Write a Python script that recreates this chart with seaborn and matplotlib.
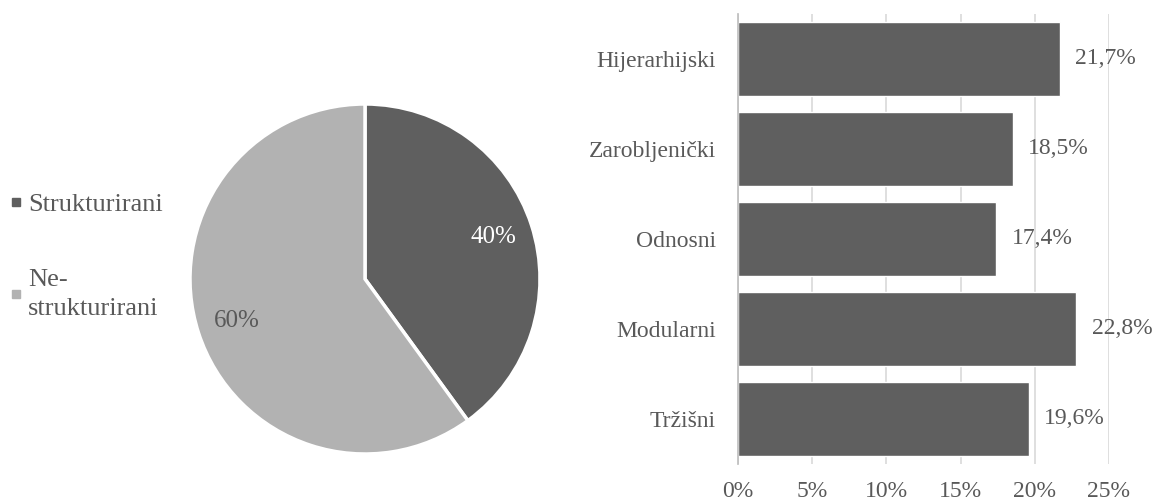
import matplotlib
matplotlib.use('Agg')
import matplotlib.pyplot as plt
import seaborn as sns
from matplotlib.lines import Line2D

# pie data
pie_labels = ['Strukturirani', 'Ne-\nstrukturirani']
pie_values = [40, 60]
pie_colors = ['#5f5f5f', '#b2b2b2']

# bar data
categories = ['Hijerarhijski', 'Zarobljenički', 'Odnosni', 'Modularni', 'Tržišni']
shares = [21.7, 18.5, 17.4, 22.8, 19.6]
x_ticks = [0, 5, 10, 15, 20, 25]

sns.set_theme(style='white')
plt.rcParams['font.family'] = ['Liberation Serif', 'DejaVu Serif']
text_col = '#595959'
fs = 17

fig = plt.figure(figsize=(11.53, 5), dpi=100)

# pie chart
ax1 = fig.add_axes([190 / 1153, 46 / 500, 350 / 1153, 350 / 500])
wedges, texts, autotexts = ax1.pie(pie_values, colors=pie_colors, startangle=90, counterclock=False,
                                   autopct='%d%%', pctdistance=0.77,
                                   wedgeprops={'edgecolor': 'white', 'linewidth': 2.5})
autotexts[0].set_color('white')
autotexts[1].set_color(text_col)
for t in autotexts:
    t.set_fontsize(18)
ax1.set_xlim(-1, 1)
ax1.set_ylim(-1, 1)
ax1.set_aspect('equal')

handles = [Line2D([], [], marker='s', linestyle='none', color=c, markersize=6) for c in pie_colors]
leg = fig.legend(handles, pie_labels, loc='upper left', bbox_to_anchor=(0.005, 0.614),
                 frameon=False, fontsize=19, labelspacing=2.0, handletextpad=0.05,
                 handlelength=0.8, labelcolor=text_col, borderpad=0.0, borderaxespad=0.0)
for t in leg.get_texts():
    t.set_linespacing(1.4)

# bar chart
ax2 = fig.add_axes([738 / 1153, 36 / 500, 371 / 1153, 450 / 500])
sns.barplot(x=shares, y=categories, orient='h', color='#5f5f5f', width=0.82,
            saturation=1, ax=ax2)
ax2.bar_label(ax2.containers[0], labels=[f'{v:.1f}%'.replace('.', ',') for v in shares],
              padding=11, fontsize=fs, color=text_col)
ax2.set_xlim(0, 25)
ax2.set_ylim(4.5, -0.5)
ax2.set_xticks(x_ticks)
ax2.set_xticklabels([f'{t}%' for t in x_ticks])
ax2.xaxis.grid(True, color='#d9d9d9', linewidth=1.2)
ax2.set_axisbelow(True)
for s in ['top', 'right', 'bottom']:
    ax2.spines[s].set_visible(False)
ax2.spines['left'].set_color('#bfbfbf')
ax2.tick_params(axis='x', length=0, pad=12, labelsize=fs, labelcolor=text_col)
ax2.tick_params(axis='y', length=0, pad=16, labelsize=fs, labelcolor=text_col)
ax2.set_xlabel('')
ax2.set_ylabel('')

fig.savefig('out.png', dpi=100)
